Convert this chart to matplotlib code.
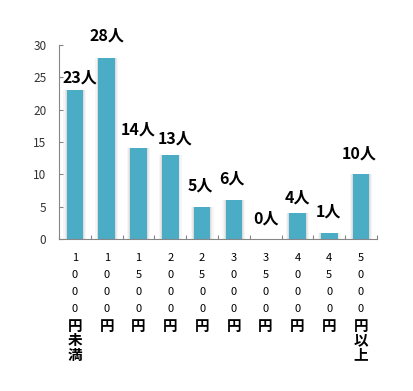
"""料金帯別の人数分布 — 棒グラフ"""

import matplotlib

matplotlib.use("Agg")

import matplotlib.pyplot as plt
import numpy as np

plt.rcParams["font.family"] = ["Noto Sans CJK JP", "DejaVu Sans"]

# データ
amounts = ["1000", "1000", "1500", "2000", "2500", "3000", "3500", "4000", "4500", "5000"]
suffixes = ["円未満", "円", "円", "円", "円", "円", "円", "円", "円", "円以上"]
counts = [23, 28, 14, 13, 5, 6, 0, 4, 1, 10]
y_ticks = [0, 5, 10, 15, 20, 25, 30]

# 値ラベルの位置ずれ（元図で手動配置されているもの）, ピクセル
label_dx = [5, 0, 0, 5, -2, -2, 0, 0, -1, -2]
label_dy = [5, 14, 11, 8, 13, 14, 13, 8, 13, 13]

BAR_COLOR = "#4BACC6"
AXIS_COLOR = "#868686"

fig = plt.figure(figsize=(4.14, 3.91), dpi=100)
ax = fig.add_axes([0.1425, 0.3887, 0.768, 0.4962])

x = np.arange(len(counts))

# 影（ぼかし風に重ねる）
for w, a in [(0.72, 0.15), (0.64, 0.25), (0.58, 0.4)]:
    ax.bar(x, counts, width=w, color="#c8c8c8", alpha=a, zorder=1, linewidth=0)
ax.bar(x, counts, width=0.52, color=BAR_COLOR, zorder=2, linewidth=0)

# 値ラベル
for xi, c, dx, dy in zip(x, counts, label_dx, label_dy):
    ax.annotate(
        f"{c}人",
        xy=(xi, c),
        xytext=(dx, dy),
        textcoords="offset pixels",
        ha="center",
        va="bottom",
        fontsize=11.5,
        fontweight="bold",
        color="#000000",
    )

# 縦書きのカテゴリラベル
for xi, num, suf in zip(x, amounts, suffixes):
    chars = [(ch, "normal") for ch in num] + [(ch, "bold") for ch in suf]
    y_off = -19
    prev_w = None
    for i, (ch, weight) in enumerate(chars):
        if i > 0:
            if weight != prev_w:
                y_off -= 16.5
            elif weight == "normal":
                y_off -= 17
            else:
                y_off -= 14.5
        prev_w = weight
        ax.annotate(
            ch,
            xy=(xi, 0),
            xytext=(0, y_off),
            textcoords="offset pixels",
            ha="center",
            va="center",
            fontsize=8 if weight == "normal" else 10.5,
            fontweight=weight,
            color="#000000",
            annotation_clip=False,
        )

ax.set_xlim(-0.5, len(counts) - 0.5)
ax.set_ylim(0, 30)
ax.set_xticks(np.arange(-0.5, len(counts), 1.0))
ax.set_xticklabels([])
ax.set_yticks(y_ticks)
ax.tick_params(axis="x", length=3, color=AXIS_COLOR, direction="in")
ax.tick_params(axis="y", length=3, color=AXIS_COLOR, direction="in",
               labelsize=8.5, labelcolor="#333333", pad=9)

ax.spines["top"].set_visible(False)
ax.spines["right"].set_visible(False)
ax.spines["left"].set_color(AXIS_COLOR)
ax.spines["bottom"].set_color(AXIS_COLOR)

fig.savefig("out.png", dpi=100, facecolor="white")
plt.close(fig)
